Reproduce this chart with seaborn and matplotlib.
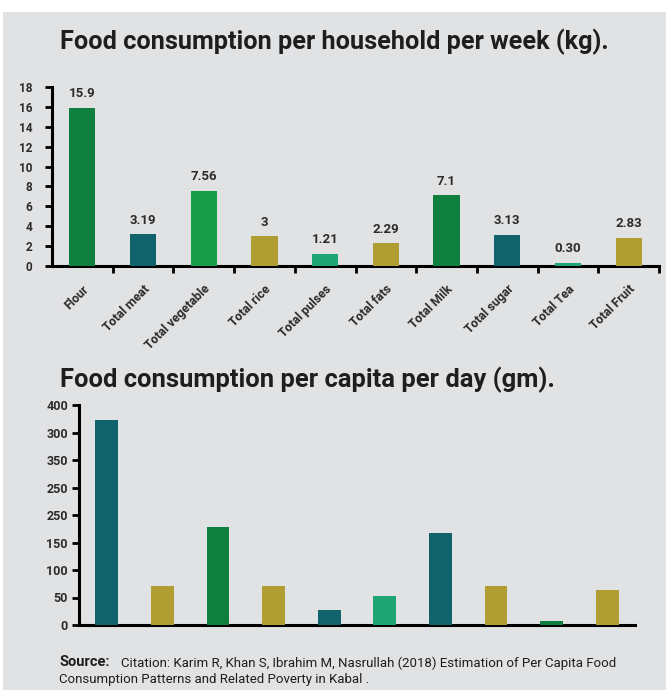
import matplotlib
matplotlib.use("Agg")
import matplotlib.pyplot as plt
import matplotlib.patches as mpatches
import seaborn as sns
import numpy as np

# Categories and values
categories = ["Flour", "Total meat", "Total vegetable", "Total rice", "Total pulses",
              "Total fats", "Total Milk", "Total sugar", "Total Tea", "Total Fruit"]
weekly_kg = [15.9, 3.19, 7.56, 3, 1.21, 2.29, 7.1, 3.13, 0.30, 2.83]
weekly_labels = ["15.9", "3.19", "7.56", "3", "1.21", "2.29", "7.1", "3.13", "0.30", "2.83"]
daily_gm = [373, 71, 179, 71, 28, 53, 168, 71, 8, 64]
daily_ticks = [0, 50, 100, 150, 200, 250, 300, 350, 400]
daily_tick_labels = ["0", "50", "100", "150", "250", "250", "350", "300", "400"]

# Palette
DKGREEN = "#0f7f3e"
TEAL = "#10636a"
GREEN = "#189e4a"
OLIVE = "#b09e32"
MINT = "#1da673"
weekly_colors = [DKGREEN, TEAL, GREEN, OLIVE, MINT, OLIVE, DKGREEN, TEAL, MINT, OLIVE]
daily_colors = [TEAL, OLIVE, DKGREEN, OLIVE, TEAL, MINT, TEAL, OLIVE, DKGREEN, OLIVE]

BG = "#e1e2e4"
TXT = "#2b2b2b"

sns.set_theme(style="white")
plt.rcParams["font.family"] = ["Roboto", "DejaVu Sans"]

fig = plt.figure(figsize=(6.68, 6.90), dpi=100)
fig.patch.set_facecolor("white")
# grey panel behind everything
fig.add_artist(mpatches.Rectangle((3 / 668, 0), 663 / 668, 1 - 12 / 690,
                                  transform=fig.transFigure, facecolor=BG,
                                  edgecolor="none", zorder=0))


def style_axes(ax):
    ax.set_facecolor("none")
    for s in ["top", "right"]:
        ax.spines[s].set_visible(False)
    for s in ["left", "bottom"]:
        ax.spines[s].set_color("black")
        ax.spines[s].set_linewidth(2.2)
        ax.spines[s].set_zorder(1)
    for p in ax.patches:
        p.set_zorder(3)
        p.set_linewidth(0)
    ax.set_xlabel("")
    ax.set_ylabel("")
    ax.set_xlim(-0.5, 9.5)
    ax.tick_params(which="both", left=True, bottom=True)


# ---- Weekly household consumption ----
ax1 = fig.add_axes([52 / 668, 1 - 266 / 690, 607 / 668, 179 / 690])
sns.barplot(x=categories, y=weekly_kg, hue=categories, palette=weekly_colors,
            width=0.43, saturation=1, legend=False, ax=ax1)
style_axes(ax1)
ax1.set_ylim(0, 18)
ax1.set_yticks(range(0, 19, 2))
ax1.tick_params(axis="y", length=5, width=2, color="black", pad=9,
                labelsize=8.5, labelcolor=TXT)
for lab in ax1.get_yticklabels():
    lab.set_fontweight("bold")
ax1.set_xticks(range(len(categories)))
ax1.set_xticklabels(categories, rotation=45, ha="right", rotation_mode="anchor",
                    fontsize=8.9, fontweight="bold", color=TXT)
ax1.tick_params(axis="x", which="major", length=0, pad=12)
ax1.set_xticks(np.arange(0.5, 10, 1), minor=True)
ax1.tick_params(axis="x", which="minor", length=5, width=2, color="black",
                direction="out")
for cont, lab in zip(ax1.containers, weekly_labels):
    ax1.bar_label(cont, labels=[lab], padding=5.5, fontsize=9.5,
                  fontweight="bold", color=TXT)

fig.text(334 / 668, 1 - 42 / 690, "Food consumption per household per week (kg).",
         ha="center", va="center", fontsize=18.2, fontweight="bold", color="#1e1e1e")

# ---- Daily per-capita consumption ----
ax2 = fig.add_axes([79 / 668, 1 - 625 / 690, 556 / 668, 220 / 690])
sns.barplot(x=categories, y=daily_gm, hue=categories, palette=daily_colors,
            width=0.41, saturation=1, legend=False, ax=ax2)
style_axes(ax2)
ax2.set_ylim(0, 400)
ax2.set_yticks(daily_ticks)
ax2.set_yticklabels(daily_tick_labels, fontsize=9, fontweight="bold", color=TXT)
ax2.tick_params(axis="y", length=5, width=2, color="black", pad=3)
ax2.set_xticks([])

fig.text(60 / 668, 1 - 380 / 690, "Food consumption per capita per day (gm).",
         ha="left", va="center", fontsize=18.4, fontweight="bold", color="#1e1e1e")

# ---- Source note ----
fig.text(59 / 668, 1 - 662 / 690, "Source:", ha="left", va="center",
         fontsize=10.5, fontweight="bold", color="#1e1e1e")
fig.text(121 / 668, 1 - 663 / 690,
         "Citation: Karim R, Khan S, Ibrahim M, Nasrullah (2018) Estimation of Per Capita Food",
         ha="left", va="center", fontsize=9.55, color="#1e1e1e")
fig.text(59 / 668, 1 - 680 / 690,
         "Consumption Patterns and Related Poverty in Kabal .",
         ha="left", va="center", fontsize=9.55, color="#1e1e1e")

fig.savefig("out.png", dpi=100, facecolor=fig.get_facecolor())
